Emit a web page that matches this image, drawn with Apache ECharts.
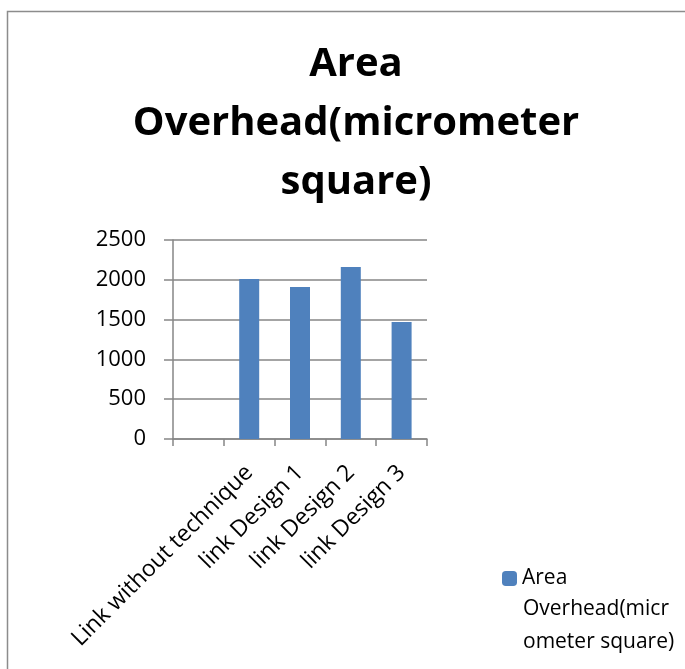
<!DOCTYPE html>
<html>
<head>
<meta charset="utf-8">
<script src="https://cdn.jsdelivr.net/npm/echarts@6/dist/echarts.min.js"></script>
<style>
  html, body { margin: 0; padding: 0; background: #fff; }
  #chart { width: 685px; height: 669px; }
</style>
</head>
<body>
<div id="chart"></div>
<script>
// categories (first slot is empty in the original)
var categories = ['', 'Link without technique', 'link Design 1', 'link Design 2', 'link Design 3'];
var areaValues = [null, 2010, 1910, 2160, 1470];
var seriesName = 'Area Overhead(micrometer square)';

var myChart = echarts.init(document.getElementById('chart'));
var font = 'Open Sans';

myChart.setOption({
    animation: false,
    title: {
        text: 'Area\nOverhead(micrometer\nsquare)',
        left: 351,
        textAlign: 'center',
        top: 30,
        textStyle: {
            fontFamily: font,
            fontWeight: 'bold',
            fontSize: 40,
            lineHeight: 59,
            color: '#000'
        }
    },
    graphic: [{
        type: 'rect',
        shape: { x: 7.5, y: 11.5, width: 720, height: 720 },
        style: { fill: 'none', stroke: '#8c8c8c', lineWidth: 1.5 },
        silent: true
    }, {
        // rest of the wrapped legend label
        type: 'text',
        left: 523,
        top: 593,
        style: {
            text: 'Overhead(micr\nometer square)',
            fontFamily: font,
            fontSize: 21,
            lineHeight: 33,
            fill: '#000'
        },
        silent: true
    }],
    legend: {
        left: 502,
        top: 568,
        padding: 0,
        itemWidth: 15,
        itemHeight: 15,
        data: [seriesName],
        formatter: function () {
            return 'Area';
        },
        textStyle: {
            fontFamily: font,
            fontSize: 21,
            color: '#000'
        }
    },
    grid: {
        left: 173,
        right: 258,
        top: 240,
        bottom: 230
    },
    xAxis: {
        type: 'category',
        data: categories,
        axisLine: { lineStyle: { color: '#868686', width: 1.5 } },
        axisTick: { show: true, length: 7, lineStyle: { color: '#868686', width: 1.5 } },
        axisLabel: {
            rotate: 45,
            interval: 0,
            margin: 30,
            fontFamily: font,
            fontSize: 23,
            color: '#000'
        }
    },
    yAxis: {
        type: 'value',
        min: 0,
        max: 2500,
        interval: 500,
        axisLine: { show: true, lineStyle: { color: '#868686', width: 1.5 } },
        axisTick: { show: true, length: 9, lineStyle: { color: '#868686', width: 1.5 } },
        splitLine: { lineStyle: { color: '#868686', width: 1.5 } },
        axisLabel: {
            margin: 27,
            fontFamily: font,
            fontSize: 22,
            color: '#000',
            formatter: function (v) { return String(v); }
        }
    },
    series: [{
        name: seriesName,
        type: 'bar',
        data: areaValues,
        barWidth: 20,
        itemStyle: { color: '#4f81bd' }
    }]
});
</script>
</body>
</html>
